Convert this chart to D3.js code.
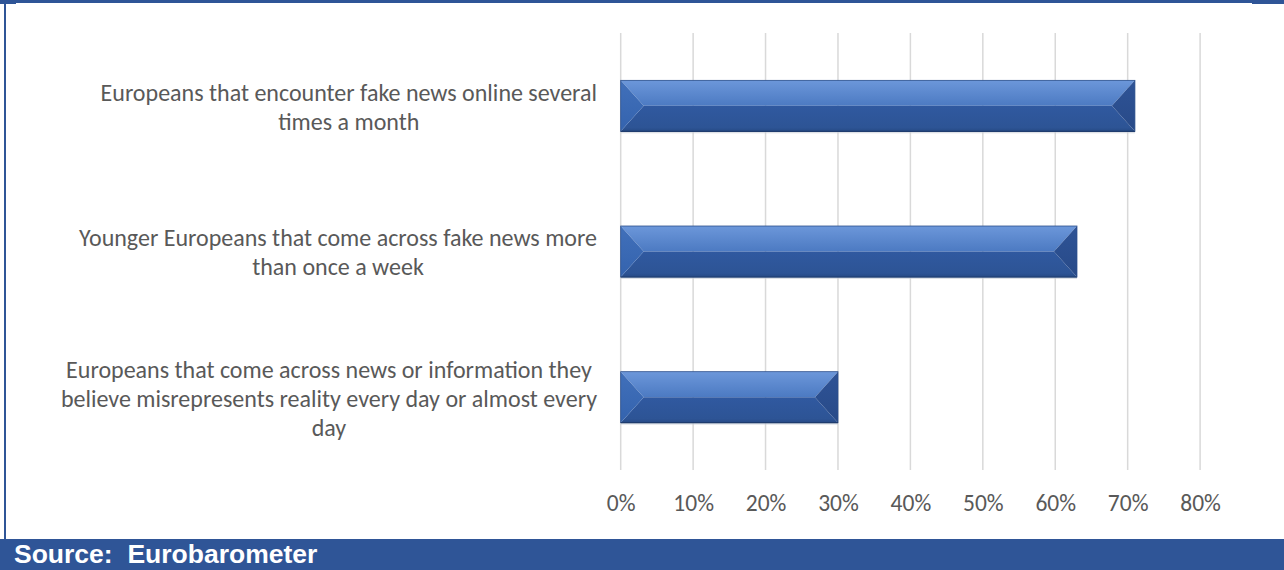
<!DOCTYPE html>
<html>
<head>
<meta charset="utf-8">
<script src="https://cdn.jsdelivr.net/npm/d3@7"></script>
<style>
  html, body { margin: 0; padding: 0; background: #fff; }
  svg { display: block; }
</style>
</head>
<body>
<svg id="chart" width="1284" height="570"></svg>
<script>
// Exposure to fake news, share of respondents
const categories = [
  "Europeans that encounter fake news online several times a month",
  "Younger Europeans that come across fake news more than once a week",
  "Europeans that come across news or information they believe misrepresents reality every day or almost every day"
];
const shares = [0.71, 0.63, 0.30];
const tickValues = [0, 0.1, 0.2, 0.3, 0.4, 0.5, 0.6, 0.7, 0.8];
const sourceText = "Source:  Eurobarometer";

const W = 1284, H = 570;
const navy = "#2F5597";
const labelFont = "Carlito, Lato, sans-serif";
const svg = d3.select("#chart");

// frame: top rule, left rule, source band
svg.append("rect").attr("x", 0).attr("y", 0).attr("width", W).attr("height", 3).attr("fill", navy);
svg.append("rect").attr("x", 0).attr("y", 0).attr("width", 16).attr("height", 4).attr("fill", navy);
svg.append("rect").attr("x", 1252).attr("y", 0).attr("width", 32).attr("height", 4).attr("fill", navy);
svg.append("rect").attr("x", 4).attr("y", 0).attr("width", 2).attr("height", 540).attr("fill", navy);
svg.append("rect").attr("x", 0).attr("y", 539).attr("width", W).attr("height", H - 539).attr("fill", navy);
svg.append("text")
  .attr("x", 14).attr("y", 563)
  .attr("font-family", "Liberation Sans, Arial, sans-serif")
  .attr("font-weight", "bold").attr("font-size", 26.5)
  .attr("fill", "#fff")
  .style("white-space", "pre")
  .text(sourceText);

// scales
const x = d3.scaleLinear().domain([0, 0.8]).range([620.7, 1200.1]);
const y = d3.scaleBand().domain(categories).range([33, 470]).paddingInner(0.65).paddingOuter(0.325);

// vertical gridlines
svg.append("g").selectAll("line").data(tickValues).join("line")
  .attr("x1", d => x(d)).attr("x2", d => x(d))
  .attr("y1", 33).attr("y2", 470)
  .attr("stroke", "#d9d9d9").attr("stroke-width", 1.5);

// x axis labels
const xAxis = d3.axisBottom(x).tickValues(tickValues).tickFormat(d3.format(".0%")).tickSize(0).tickPadding(0);
const gx = svg.append("g").attr("transform", "translate(0,494)").call(xAxis);
gx.select(".domain").remove();
gx.selectAll("text")
  .attr("font-family", labelFont).attr("font-size", 23.5)
  .attr("fill", "#595959").attr("dy", "0.71em");

// bevel gradients
const defs = svg.append("defs");
const topGrad = defs.append("linearGradient").attr("id", "bevelTop").attr("x1", 0).attr("y1", 0).attr("x2", 0).attr("y2", 1);
topGrad.append("stop").attr("offset", "0%").attr("stop-color", "#6C97DA");
topGrad.append("stop").attr("offset", "100%").attr("stop-color", "#4C7AC2");
const botGrad = defs.append("linearGradient").attr("id", "bevelBottom").attr("x1", 0).attr("y1", 0).attr("x2", 0).attr("y2", 1);
botGrad.append("stop").attr("offset", "0%").attr("stop-color", "#3059A0");
botGrad.append("stop").attr("offset", "85%").attr("stop-color", "#2D5495");
botGrad.append("stop").attr("offset", "100%").attr("stop-color", "#264A86");
const leftGrad = defs.append("linearGradient").attr("id", "bevelLeft").attr("x1", 0).attr("y1", 0).attr("x2", 0).attr("y2", 1);
leftGrad.append("stop").attr("offset", "0%").attr("stop-color", "#4170BA");
leftGrad.append("stop").attr("offset", "100%").attr("stop-color", "#3463AE");
const rightGrad = defs.append("linearGradient").attr("id", "bevelRight").attr("x1", 0).attr("y1", 0).attr("x2", 0).attr("y2", 1);
rightGrad.append("stop").attr("offset", "0%").attr("stop-color", "#2E5396");
rightGrad.append("stop").attr("offset", "100%").attr("stop-color", "#284A88");

// bars drawn as four bevel facets
const bars = svg.append("g").selectAll("g").data(categories.map((c, i) => ({ c, v: shares[i] }))).join("g");
bars.each(function (d) {
  const g = d3.select(this);
  const x0 = x(0), x1 = x(d.v), y0 = y(d.c), h = y.bandwidth(), y1 = y0 + h, ym = y0 + h / 2;
  const b = Math.min(23, (x1 - x0) / 2);
  const pts = p => p.map(q => q.join(",")).join(" ");
  g.append("rect").attr("x", x0).attr("y", y1).attr("width", x1 - x0).attr("height", 2).attr("fill", "#c8cdd6").attr("opacity", 0.6);
  g.append("polygon").attr("points", pts([[x0, y0], [x1, y0], [x1 - b, ym], [x0 + b, ym]])).attr("fill", "url(#bevelTop)");
  g.append("polygon").attr("points", pts([[x0, y1], [x1, y1], [x1 - b, ym], [x0 + b, ym]])).attr("fill", "url(#bevelBottom)");
  g.append("polygon").attr("points", pts([[x0, y0], [x0 + b, ym], [x0, y1]])).attr("fill", "url(#bevelLeft)");
  g.append("polygon").attr("points", pts([[x1, y0], [x1 - b, ym], [x1, y1]])).attr("fill", "url(#bevelRight)");
  g.append("rect").attr("x", x0).attr("y", y0).attr("width", x1 - x0).attr("height", h)
    .attr("fill", "none").attr("stroke", "#2B4F8C").attr("stroke-width", 0.8);
  g.append("line").attr("x1", x0).attr("x2", x1).attr("y1", y1).attr("y2", y1)
    .attr("stroke", "#1F3C6E").attr("stroke-width", 1.2);
});

// wrapped category labels, centred as a block that ends near the axis
const labelRight = 597, wrapWidth = 546, lineH = 29;
const lab = svg.append("g").attr("font-family", labelFont).attr("font-size", 24).attr("fill", "#595959");
categories.forEach(c => {
  const t = lab.append("text").attr("text-anchor", "middle");
  const words = c.split(" ");
  const lines = [];
  let cur = [];
  const probe = lab.append("text");
  words.forEach(w => {
    const trial = cur.concat(w).join(" ");
    probe.text(trial);
    if (probe.node().getComputedTextLength() > wrapWidth && cur.length) {
      lines.push(cur.join(" "));
      cur = [w];
    } else cur.push(w);
  });
  lines.push(cur.join(" "));
  let maxW = 0;
  lines.forEach(l => { probe.text(l); maxW = Math.max(maxW, probe.node().getComputedTextLength()); });
  probe.remove();
  const cx = labelRight - maxW / 2;
  const cy = y(c) + y.bandwidth() / 2 + 1;
  lines.forEach((l, i) => {
    t.append("tspan").attr("x", cx)
      .attr("y", cy + (i - (lines.length - 1) / 2) * lineH)
      .attr("dy", "0.35em").text(l);
  });
});
</script>
</body>
</html>
